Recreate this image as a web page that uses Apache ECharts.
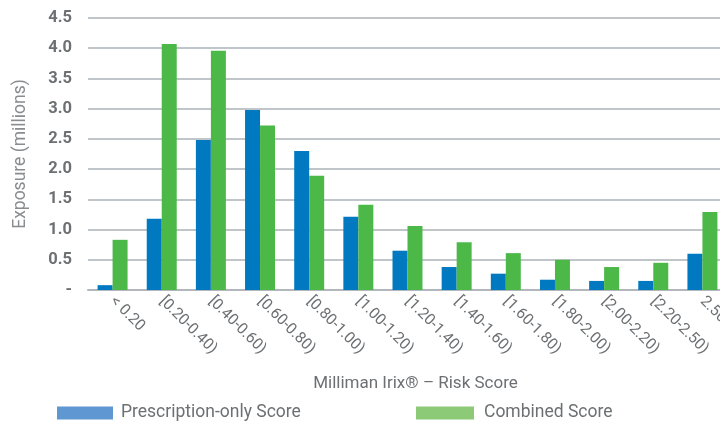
<!DOCTYPE html>
<html><head><meta charset="utf-8">
<script src="https://cdn.jsdelivr.net/npm/echarts@6/dist/echarts.min.js"></script>
<style>html,body{margin:0;padding:0;background:#fff}#c{width:720px;height:421px}</style>
</head><body><div id="c"></div>
<script>
const categories = ['< 0.20','[0.20-0.40)','[0.40-0.60)','[0.60-0.80)','[0.80-1.00)','[1.00-1.20)','[1.20-1.40)','[1.40-1.60)','[1.60-1.80)','[1.80-2.00)','[2.00-2.20)','[2.20-2.50)','2.50+'];
const prescriptionOnly = [0.08,1.18,2.48,2.98,2.30,1.21,0.65,0.38,0.27,0.17,0.15,0.15,0.60];
const combined = [0.83,4.07,3.96,2.72,1.89,1.41,1.06,0.79,0.61,0.50,0.38,0.45,1.29];
const seriesNames = ['Prescription-only Score','Combined Score'];
const font = 'Roboto, sans-serif';
const chart = echarts.init(document.getElementById('c'));
chart.setOption({
  animation:false,
  grid:{left:88,right:-7,top:18,bottom:131,containLabel:false,outerBoundsMode:'none'},
  legend:[
    {left:52,top:399,itemWidth:56,itemHeight:13,itemGap:9,icon:'rect',
     textStyle:{fontFamily:font,fontSize:17.5,color:'#6d7073',padding:[0,0,0,3]},
     data:[{name:seriesNames[0],itemStyle:{color:'#5e97d1'}}]},
    {left:411,top:399,itemWidth:58,itemHeight:13,itemGap:11,icon:'rect',
     textStyle:{fontFamily:font,fontSize:17.5,color:'#6d7073',padding:[0,0,0,5]},
     data:[{name:seriesNames[1],itemStyle:{color:'#8dca78'}}]}
  ],
  xAxis:{type:'category',data:categories,
    name:'Milliman Irix® – Risk Score',nameLocation:'middle',nameGap:85,
    nameTextStyle:{fontFamily:font,fontSize:17,color:'#6d7073',padding:[0,0,0,16]},
    axisLine:{lineStyle:{color:'#b1b7bd',width:2}},axisTick:{show:false},
    axisLabel:{rotate:-45,interval:0,margin:9,fontFamily:font,fontSize:15.5,color:'#6d7073'}},
  yAxis:{type:'value',min:0,max:4.5,interval:0.5,
    name:'Exposure (millions)',nameLocation:'middle',nameGap:50,
    nameTextStyle:{fontFamily:font,fontSize:17.5,color:'#8a8d90',padding:[0,0,8,0]},
    axisLine:{show:false},axisTick:{show:false},
    splitLine:{lineStyle:{color:'#abb2b9',width:1.5}},
    axisLabel:{margin:16,fontFamily:font,fontWeight:'bold',fontSize:16.5,color:'#6d7073',
      formatter:v=>v===0?'-':v.toFixed(1)}},
  series:[
    {name:seriesNames[0],type:'bar',data:prescriptionOnly,itemStyle:{color:'#0079c1'},barGap:'0%',barCategoryGap:'39%'},
    {name:seriesNames[1],type:'bar',data:combined,itemStyle:{color:'#4cb848'},barGap:'0%',barCategoryGap:'39%'}
  ]
});
</script></body></html>
